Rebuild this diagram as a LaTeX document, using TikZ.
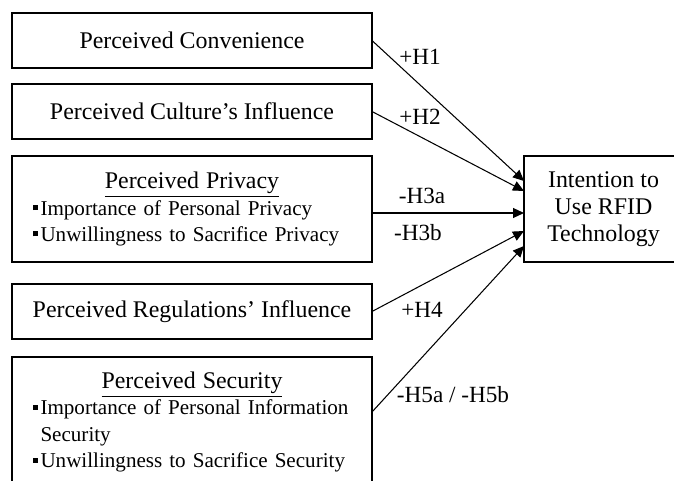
\documentclass[tikz,border=0pt]{standalone}
\usepackage{fontspec}
\setmainfont{Liberation Serif}
\usetikzlibrary{positioning,calc}
\usetikzlibrary{arrows.meta}

\newcommand{\bitem}{\noindent\hangindent=0.15cm\hangafter=1%
  \makebox[0.15cm][l]{\rule[0.1cm]{0.09cm}{0.1cm}}}

\begin{document}
\begin{tikzpicture}[
         factor/.style = {draw, line width=0.75pt, inner sep=0pt, outer sep=0pt,
         minimum width=7.2cm, minimum height=1.1cm, align=center,
         font=\fontsize{13.6}{15.5}\selectfont},
         listbox/.style = {factor, text width=6.36cm, align=left,
         inner xsep=0.42cm, font=\fontsize{12}{15}\selectfont},
         hyp/.style = {inner sep=0pt, font=\fontsize{13.2}{15}\selectfont},
         link/.style = {line width=0.6pt,
         -{Triangle[length=0.22cm, width=0.2cm]}}]

      \useasboundingbox (0,0) rectangle (13.48,-9.62);
      \clip (0,0) rectangle (13.48,-9.62);

      % factors on the left
      \node[factor] (conv) at (3.84,-0.81) {Perceived Convenience};
      \node[factor, below=0.32cm of conv] (cult) {Perceived Culture's Influence};
      \node[listbox, minimum height=2.12cm, below=0.34cm of cult] (priv)
         {{\centering\fontsize{13.6}{15.5}\selectfont\underline{Perceived Privacy}\par}
          \bitem Importance of Personal Privacy\par
          \bitem Unwillingness to Sacrifice Privacy};
      \node[factor, below=0.44cm of priv] (regu) {Perceived Regulations' Influence};
      \node[listbox, minimum height=2.6cm, below=0.36cm of regu] (secu)
         {{\centering\fontsize{13.6}{15.5}\selectfont\underline{Perceived Security}\par}
          \bitem Importance of Personal Information Security\par
          \bitem Unwillingness to Sacrifice Security};

      % outcome
      \node[factor, minimum width=3.18cm, minimum height=2.12cm,
         right=3.04cm of priv] (intent) {Intention to\\Use RFID\\Technology};

      % hypotheses
      \draw[link] (conv.east) -- ([yshift=0.56cm]intent.west);
      \draw[link] (cult.east) -- ([yshift=0.36cm]intent.west);
      \draw[link] ([yshift=-0.08cm]priv.east) -- ([yshift=-0.08cm]intent.west);
      \draw[link] (regu.east) -- ([yshift=-0.44cm]intent.west);
      \draw[link] ([yshift=0.2cm]secu.east) -- ([yshift=-0.74cm]intent.west);

      \node[hyp] (h1)  at ($(conv.east)+(0.96cm,-0.33cm)$) {+H1};
      \node[hyp] (h2)  at ($(cult.east)+(0.96cm,-0.11cm)$) {+H2};
      \node[hyp] (h3a) at ($(priv.east)+(1.0cm,0.26cm)$)   {-H3a};
      \node[hyp] (h3b) at ($(priv.east)+(0.92cm,-0.48cm)$) {-H3b};
      \node[hyp] (h4)  at ($(regu.east)+(1.0cm,0.03cm)$)   {+H4};
      \node[hyp] (h5)  at ($(secu.east)+(1.62cm,0.54cm)$)  {-H5a / -H5b};

   \end{tikzpicture}
\end{document}
